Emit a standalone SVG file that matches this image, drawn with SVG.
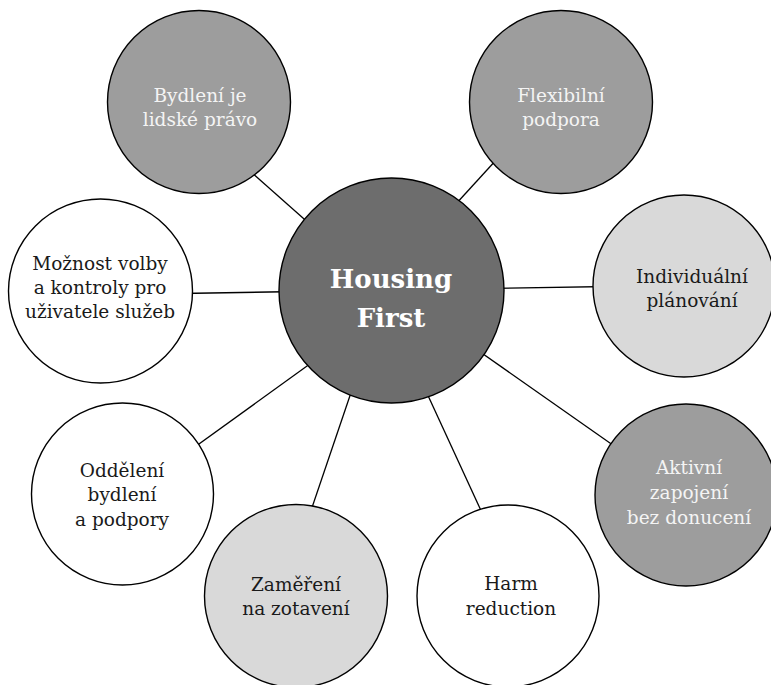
<svg xmlns="http://www.w3.org/2000/svg" width="771" height="685" viewBox="0 0 771 685">
<style>
.n{stroke:#000;stroke-width:1.4}
.c{fill:#6d6d6d}
.m{fill:#9d9d9d}
.l{fill:#d9d9d9}
.w{fill:#fff}
text{font-family:"DejaVu Serif","Liberation Serif",serif;font-size:18.5px;text-anchor:middle}
.dt{fill:#1a1a1a}
.lt{fill:#f4f4f4}
.big{font-size:26px;font-weight:bold;fill:#fff}
#edges line{stroke:#000;stroke-width:1.3}
</style>
<rect width="771" height="685" fill="#fff"/>
<g id="edges">
<line x1="243" y1="165" x2="321" y2="234"/>
<line x1="508" y1="147" x2="444" y2="217"/>
<line x1="150" y1="294" x2="330" y2="291"/>
<line x1="450" y1="289" x2="640" y2="286"/>
<line x1="174" y1="462" x2="332" y2="348"/>
<line x1="302" y1="537" x2="357" y2="375"/>
<line x1="495" y1="541" x2="419" y2="376"/>
<line x1="637" y1="462" x2="466" y2="342"/>
</g>
<g id="center">
<circle class="n c" cx="391.5" cy="290.5" r="112.5"/>
<text class="big" x="391" y="288">Housing</text>
<text class="big" x="391" y="327">First</text>
</g>
<g id="bydleni">
<circle class="n m" cx="199" cy="102" r="91.5"/>
<text class="lt" x="200" y="102">Bydlení je</text>
<text class="lt" x="200" y="126">lidské právo</text>
</g>
<g id="flexibilni">
<circle class="n m" cx="561" cy="102" r="91.5"/>
<text class="lt" x="561" y="102">Flexibilní</text>
<text class="lt" x="561" y="126">podpora</text>
</g>
<g id="moznost">
<circle class="n w" cx="100.5" cy="291" r="92"/>
<text class="dt" x="100" y="270">Možnost volby</text>
<text class="dt" x="100" y="294">a kontroly pro</text>
<text class="dt" x="100" y="318">uživatele služeb</text>
</g>
<g id="individualni">
<circle class="n l" cx="684" cy="286" r="91"/>
<text class="dt" x="692" y="283">Individuální</text>
<text class="dt" x="692" y="307">plánování</text>
</g>
<g id="oddeleni">
<circle class="n w" cx="122.5" cy="494" r="91"/>
<text class="dt" x="122" y="477">Oddělení</text>
<text class="dt" x="122" y="501">bydlení</text>
<text class="dt" x="122" y="526">a podpory</text>
</g>
<g id="zamereni">
<circle class="n l" cx="296" cy="596" r="91.5"/>
<text class="dt" x="296" y="591">Zaměření</text>
<text class="dt" x="296" y="615">na zotavení</text>
</g>
<g id="harm">
<circle class="n w" cx="508" cy="596" r="91"/>
<text class="dt" x="511" y="590">Harm</text>
<text class="dt" x="511" y="615">reduction</text>
</g>
<g id="aktivni">
<circle class="n m" cx="686" cy="495" r="91"/>
<text class="lt" x="689" y="474">Aktivní</text>
<text class="lt" x="689" y="499">zapojení</text>
<text class="lt" x="689" y="524">bez donucení</text>
</g>
</svg>
